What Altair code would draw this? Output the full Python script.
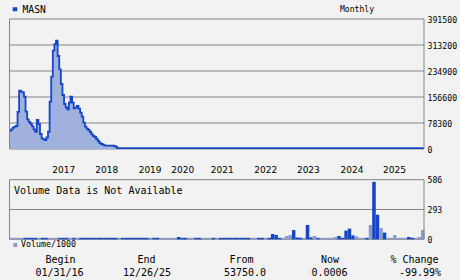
import altair as alt
import pandas as pd

# ---------------- data ----------------
ticker = "MASN"
period = "Monthly"
start_date = "2016-01-31"
end_date = "2025-12-26"

# bi-weekly closing prices, from start_date
price_values = [
    55200, 59200, 64200, 67300, 69300, 112000, 175700, 172600, 170600, 157600,
    112400, 89300, 81300, 75300, 68300, 59200, 52000, 87300, 75300, 45200,
    32100, 29100, 27100, 35100, 52000, 142500, 217800, 296000, 316000, 326000,
    280000, 240000, 195700, 162600, 135500, 125500, 119500, 139500, 157600, 139500,
    122500, 124500, 129500, 121500, 109400, 97400, 79300, 67300, 61200, 57200,
    51200, 44200, 39100, 36100, 30100, 24100, 18100, 15100, 13000, 11000,
    10000, 10000, 10000, 10000, 10000, 9000, 7000, 2500,
]
price_last = 2500
price_ticks = [0, 78300, 156600, 234900, 313200, 391500]

# monthly volume / 1000 and up-month flag
vol_values = [
    15, 15, 15, 15, 15, 15, 15, 15, 15, 15, 15, 15, 15, 15, 15, 15, 15, 15, 15, 15,
    15, 15, 15, 15, 15, 15, 15, 15, 15, 15, 15,
    15,
    15, 15, 15, 15, 15, 15, 15, 15,
    15,
    15, 15,
    15, 15, 15, 15, 15,
    23,
    15, 15, 15, 15, 15, 15, 15, 15, 15, 15, 15,
    15, 15, 15, 15, 15, 15, 15, 15, 15,
    15, 15, 15, 15, 15, 15,
    52, 43, 15, 15, 33, 42, 91, 18, 15, 15,
    141, 20, 33, 15, 15, 15, 15, 15, 23, 33,
    15, 85, 105, 39, 29, 15, 15, 15, 141, 565,
    242, 111, 66, 15, 15, 42, 15, 15, 15, 23,
    15, 15, 23, 92,
]
vol_up = [
    0, 0, 0, 0, 1, 1, 1, 1, 0, 1, 1, 0, 0, 0, 1, 1, 1, 0, 1, 0,
    1, 1, 1, 1, 1, 1, 1, 1, 1, 1, 1,
    0,
    1, 1, 1, 1, 1, 1, 1, 1,
    0,
    1, 1,
    0, 0, 0, 0, 0,
    1,
    1, 1, 0, 0, 1, 1, 0, 0, 0, 1, 0,
    1, 1, 1, 1, 1, 1, 1, 1, 1,
    0, 0, 1, 1, 0, 1,
    1, 1, 1, 0, 0, 0, 1, 1, 1, 0,
    1, 1, 0, 1, 0, 0, 0, 0, 0, 1,
    1, 1, 1, 1, 0, 0, 0, 1, 0, 1,
    1, 0, 1, 0, 0, 0, 0, 0, 0, 1,
    1, 0, 0, 0,
]
vol_ticks = [0, 293, 586]

year_labels = ["2017", "2018", "2019", "2020", "2021", "2022", "2023", "2024", "2025"]
year_dates = ["2017-05-18", "2018-05-28", "2019-06-11", "2020-03-21", "2021-03-01",
              "2022-03-16", "2023-03-23", "2024-04-07", "2025-04-13"]

footer_heads = ["Begin", "End", "From", "Now", "% Change"]
footer_vals = ["01/31/16", "12/26/25", "53750.0", "0.0006", "-99.99%"]

# ---------------- styles ----------------
BG = "#f2f2f2"
BLUE = "#1446c8"
FILL = "#a1b1de"
GRAYBLUE = "#8c9bca"
GRID = "#858585"
MONO = "DejaVu Sans Mono"
SANS = "DejaVu Sans"

X0, X1 = 9.5, 424
P_TOP, P_BOT = 19, 149
V_TOP, V_BOT = 179.7, 239.3

x_scale = alt.Scale(
    domain=[alt.DateTime(year=2016, month=1, date=31), alt.DateTime(year=2025, month=12, date=26)],
    range=[X0, X1],
)
y_price = alt.Scale(domain=[0, price_ticks[-1]], range=[P_BOT, P_TOP], nice=False, zero=False)
y_vol = alt.Scale(domain=[0, vol_ticks[-1]], range=[V_BOT, V_TOP], nice=False, zero=False)

# ---------------- tables ----------------
pdates = list(pd.date_range(start_date, periods=len(price_values), freq="14D")) + [pd.Timestamp(end_date)]
price_df = pd.DataFrame({"date": pdates, "price": price_values + [price_last]})

mdates = pd.date_range(start_date, periods=len(vol_values) + 1, freq=pd.offsets.MonthEnd())
vol_df = pd.DataFrame({
    "start": mdates[:-1], "end": mdates[1:], "vol": vol_values, "up": vol_up,
    "base": [0] * len(vol_values),
})

pgrid_df = pd.DataFrame({"v": price_ticks, "label": [str(v) for v in price_ticks],
                         "s": pd.Timestamp(start_date), "e": pd.Timestamp(end_date)})
vgrid_df = pd.DataFrame({"v": vol_ticks, "label": [str(v) for v in vol_ticks],
                         "s": pd.Timestamp(start_date), "e": pd.Timestamp(end_date)})
pframe_df = pd.DataFrame({"d": [pd.Timestamp(start_date), pd.Timestamp(end_date)],
                          "lo": [0, 0], "hi": [price_ticks[-1]] * 2})
vframe_df = pd.DataFrame({"d": [pd.Timestamp(start_date), pd.Timestamp(end_date)],
                          "lo": [0, 0], "hi": [vol_ticks[-1]] * 2})
year_df = pd.DataFrame({"d": pd.to_datetime(year_dates), "label": year_labels})

X = lambda f: alt.X(f, scale=x_scale, axis=None)

layers = []

# price panel
layers.append(alt.Chart(pgrid_df).mark_rule(color=GRID, strokeWidth=1).encode(
    x=X("s:T"), x2="e:T", y=alt.Y("v:Q", scale=y_price, axis=None)))
layers.append(alt.Chart(price_df).mark_area(interpolate="step-after", color=FILL).encode(
    x=X("date:T"), y=alt.Y("price:Q", scale=y_price, axis=None)))
layers.append(alt.Chart(price_df).mark_line(interpolate="step-after", color=BLUE, strokeWidth=1.8).encode(
    x=X("date:T"), y=alt.Y("price:Q", scale=y_price, axis=None)))
layers.append(alt.Chart(pframe_df).mark_rule(color=GRID, strokeWidth=1).encode(
    x=X("d:T"), y=alt.Y("lo:Q", scale=y_price, axis=None), y2="hi:Q"))
layers.append(alt.Chart(pgrid_df).mark_text(align="left", baseline="middle", font=MONO, fontSize=8.2,
                                            color="black", dy=2).encode(
    x=alt.value(X1 + 3.5), y=alt.Y("v:Q", scale=y_price, axis=None), text="label:N"))

# volume panel
layers.append(alt.Chart(vgrid_df).mark_rule(color=GRID, strokeWidth=1).encode(
    x=X("s:T"), x2="e:T", y=alt.Y("v:Q", scale=y_vol, axis=None)))
layers.append(alt.Chart(vol_df).mark_rect().encode(
    x=X("start:T"), x2="end:T",
    y=alt.Y("vol:Q", scale=y_vol, axis=None), y2="base:Q",
    color=alt.condition(alt.datum.up == 1, alt.value(BLUE), alt.value(GRAYBLUE))))
layers.append(alt.Chart(vframe_df).mark_rule(color=GRID, strokeWidth=1).encode(
    x=X("d:T"), y=alt.Y("lo:Q", scale=y_vol, axis=None), y2="hi:Q"))
layers.append(alt.Chart(vgrid_df).mark_text(align="left", baseline="middle", font=MONO, fontSize=8.2,
                                            color="black", dy=1.5).encode(
    x=alt.value(X1 + 3.5), y=alt.Y("v:Q", scale=y_vol, axis=None), text="label:N"))

# year labels
layers.append(alt.Chart(year_df).mark_text(align="center", baseline="middle", font=SANS, fontSize=9,
                                           color="black").encode(
    x=X("d:T"), y=alt.value(169.5), text="label:N"))


def txt(text, x, y, size, align="left", font=MONO):
    return alt.Chart(pd.DataFrame({"t": [text]})).mark_text(
        align=align, baseline="middle", font=font, fontSize=size, color="black"
    ).encode(x=alt.value(x), y=alt.value(y), text="t:N")


def box(x, x2, y, y2, color):
    return alt.Chart(pd.DataFrame({"a": [0]})).mark_rect(color=color).encode(
        x=alt.value(x), x2=alt.value(x2), y=alt.value(y), y2=alt.value(y2))


layers.append(box(12.7, 17.3, 7.3, 11.3, BLUE))
layers.append(txt(ticker, 22.5, 9.5, 9.7))
layers.append(txt(period, 357, 9.5, 8.1, align="center"))
layers.append(txt("Volume Data is Not Available", 14, 191, 10))
layers.append(box(13.3, 17.3, 243, 247, GRAYBLUE))
layers.append(txt("Volume/1000", 21, 245.3, 8.3))

head_x = [60.5, 146.5, 241.5, 330, 414.5]
val_x = [59.5, 147, 245, 329.5, 420]
for h, v, hx, vx in zip(footer_heads, footer_vals, head_x, val_x):
    layers.append(txt(h, hx, 259.5, 10, align="center"))
    layers.append(txt(v, vx, 273, 10, align="center"))

chart = alt.layer(*layers).resolve_scale(y="independent").properties(
    width=460, height=280,
    autosize=alt.AutoSizeParams(type="none"),
    padding=0,
    background=BG,
).configure_view(stroke=None)

chart.save("out.html", embed_options={"renderer": "svg", "actions": False})
